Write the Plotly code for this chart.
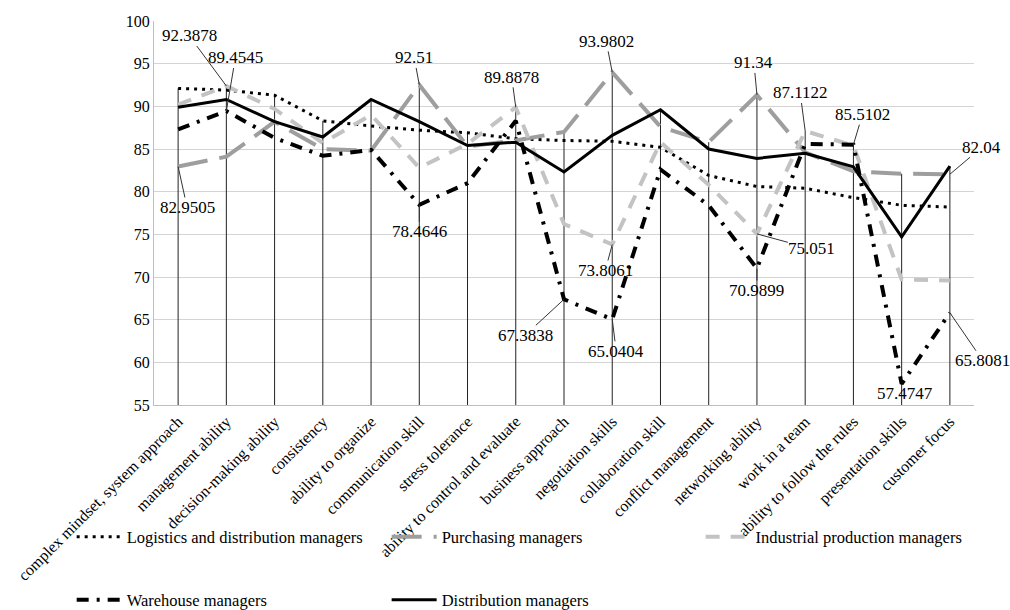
import plotly.graph_objects as go

categories = [
    "complex mindset, system approach", "management ability", "decision-making ability",
    "consistency", "ability to organize", "communication skill", "stress tolerance",
    "ability to control and evaluate", "business approach", "negotiation skills",
    "collaboration skill", "conflict management", "networking ability", "work in a team",
    "ability to follow the rules", "presentation skills", "customer focus",
]

logistics = [92.1, 91.9, 91.3, 88.3, 87.7, 87.2, 86.9, 86.2, 86.0, 85.9, 85.2, 81.9, 80.6, 80.4, 79.3, 78.4, 78.2]
purchasing = [82.9505, 84.1, 88.2, 85.0, 84.8, 92.51, 85.3, 86.0, 87.0, 93.9802, 87.6, 85.8, 91.34, 84.6, 82.4, 82.1, 82.04]
industrial = [90.2, 92.3878, 89.7, 85.7, 89.0, 82.8, 85.6, 89.8878, 76.2, 73.8061, 85.8, 80.8, 75.051, 87.1122, 85.4, 69.7, 69.6]
warehouse = [87.3, 89.4545, 86.3, 84.2, 84.9, 78.4646, 81.0, 88.3, 67.3838, 65.0404, 82.6, 78.4, 70.9899, 85.6, 85.5102, 57.4747, 65.8081]
distribution = [89.9, 90.8, 88.2, 86.4, 90.8, 88.2, 85.4, 85.8, 82.3, 86.6, 89.6, 85.0, 83.9, 84.5, 82.9, 74.7, 83.0]

series_names = ["Logistics and distribution managers", "Purchasing managers",
                "Industrial production managers", "Warehouse managers", "Distribution managers"]

# labelled points: (series, category index, text offset ax, ay)
labels = [
    ("industrial", 1, -37, -50),
    ("warehouse", 1, 9, -53),
    ("purchasing", 0, 9, 41),
    ("purchasing", 5, -5, -27),
    ("warehouse", 5, 0, 27),
    ("industrial", 7, -4, -30),
    ("warehouse", 8, -39, 36),
    ("warehouse", 9, 4, 32),
    ("purchasing", 9, -6, -31),
    ("industrial", 9, -7, 26),
    ("purchasing", 12, -3, -32),
    ("warehouse", 12, 0, 22),
    ("industrial", 12, 55, 15),
    ("industrial", 13, -5, -38),
    ("warehouse", 14, 9, -30),
    ("purchasing", 16, 32, -27),
    ("warehouse", 15, 3, 10),
    ("warehouse", 16, 33, 48),
]

data = {"logistics": logistics, "purchasing": purchasing, "industrial": industrial,
        "warehouse": warehouse, "distribution": distribution}

FONT = "Liberation Serif"
fig = go.Figure()

# drop lines from the highest value at each category to the axis
ymin = 55
drop_x, drop_y = [], []
for i, c in enumerate(categories):
    top = max(s[i] for s in data.values())
    drop_x += [c, c, None]
    drop_y += [top, ymin, None]
fig.add_trace(go.Scatter(x=drop_x, y=drop_y, mode="lines", line=dict(color="#222222", width=1),
                         showlegend=False, hoverinfo="skip", cliponaxis=False))

styles = [
    (logistics, dict(color="black", width=3, dash="3px,5px"), "legend"),
    (purchasing, dict(color="#9e9e9e", width=4, dash="30px,12px"), "legend2"),
    (industrial, dict(color="#c3c3c3", width=4, dash="14px,11px"), "legend3"),
    (warehouse, dict(color="black", width=4, dash="12px,8px,3px,8px"), "legend4"),
    (distribution, dict(color="black", width=3), "legend5"),
]
for (vals, line, lg), name in zip(styles, series_names):
    fig.add_trace(go.Scatter(x=categories, y=vals, mode="lines", name=name, line=line, legend=lg))

annotations = []
for sname, idx, ax, ay in labels:
    v = data[sname][idx]
    annotations.append(dict(x=categories[idx], y=v, xref="x", yref="y", text=f"{v:g}",
                            showarrow=True, arrowhead=0, arrowwidth=1, arrowcolor="#333333",
                            ax=ax, ay=ay, font=dict(family=FONT, size=17, color="black"),
                            standoff=0, borderpad=0))

# legend slots (paper coords): column x positions and row y positions
leg_x = [-0.1004, 0.2837, 0.6666, -0.1004, 0.2837]
leg_y = [-0.3438, -0.3438, -0.3438, -0.5080, -0.5080]
legend_layout = {}
for k, (lx, ly) in enumerate(zip(leg_x, leg_y)):
    key = "legend" if k == 0 else f"legend{k + 1}"
    legend_layout[key] = dict(x=lx, xanchor="left", y=ly, yanchor="middle", itemwidth=45,
                              font=dict(family=FONT, size=16.5, color="black"),
                              bgcolor="rgba(0,0,0,0)")

fig.update_layout(
    width=1010, height=610,
    margin=dict(l=154, r=36, t=21, b=205, autoexpand=False),
    paper_bgcolor="white", plot_bgcolor="white",
    font=dict(family=FONT, size=16, color="black"),
    annotations=annotations,
    xaxis=dict(type="category", range=[-0.5, 16.5], tickangle=-45, showgrid=False,
               showline=True, linecolor="#bfbfbf", ticks="", tickfont=dict(family=FONT, size=16)),
    yaxis=dict(range=[55, 100], dtick=5, showgrid=True, gridcolor="#d4d4d4", zeroline=False,
               showline=True, linecolor="#bfbfbf", ticks="", tickfont=dict(family=FONT, size=16)),
    **legend_layout,
)

fig.write_html("out.html", config={"displayModeBar": False},
               post_script="document.body.style.margin='0px';")
